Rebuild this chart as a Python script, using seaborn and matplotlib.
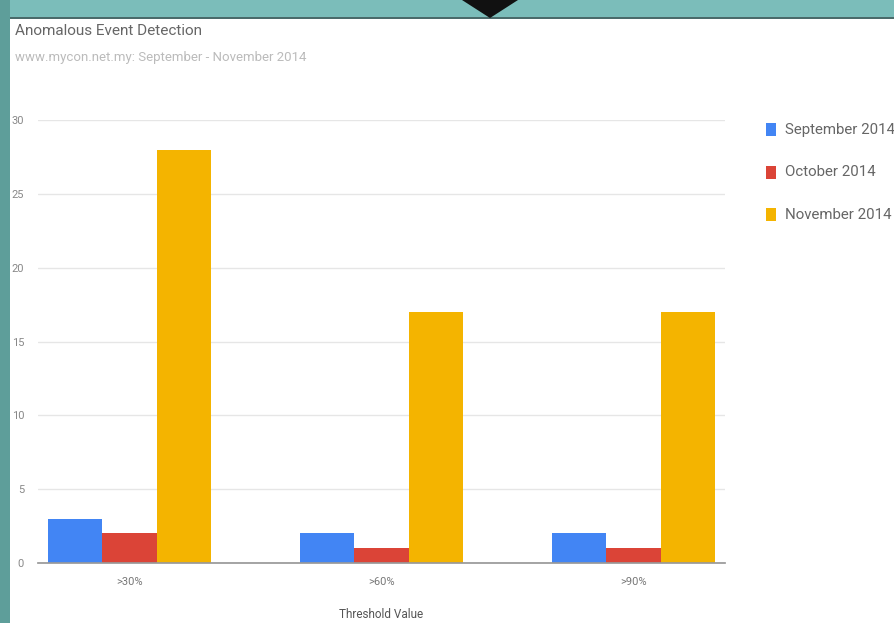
import matplotlib
matplotlib.use("Agg")
import matplotlib.pyplot as plt
import matplotlib.patches as mpatches
import seaborn as sns
import pandas as pd

categories = [">30%", ">60%", ">90%"]
series = ["September 2014", "October 2014", "November 2014"]
sep_vals = [3, 2, 2]
oct_vals = [2, 1, 1]
nov_vals = [28, 17, 17]
colors = ["#4285F4", "#DB4437", "#F4B400"]

rows = []
for s, vals in zip(series, [sep_vals, oct_vals, nov_vals]):
    for c, v in zip(categories, vals):
        rows.append({"Threshold Value": c, "Month": s, "Count": v})
df = pd.DataFrame(rows)

sns.set_theme(style="white")
plt.rcParams['font.family'] = ['Roboto', 'DejaVu Sans']

fig = plt.figure(figsize=(8.94, 6.23), dpi=100)
fig.patch.set_facecolor("white")

# teal frame (photo border)
fig.patches.append(mpatches.Rectangle((0, 1 - 17/623), 1, 17/623, transform=fig.transFigure,
                                      facecolor="#7BBDBA", edgecolor="none", zorder=0))
fig.patches.append(mpatches.Rectangle((0, 0), 10/894, 1, transform=fig.transFigure,
                                      facecolor="#5E9E9A", edgecolor="none", zorder=0))
fig.patches.append(mpatches.Rectangle((10/894, 1 - 19/623), 1, 2/623, transform=fig.transFigure,
                                      facecolor="#4A6B6B", edgecolor="none", zorder=0))
fig.patches.append(mpatches.Polygon([(462/894, 1.0), (518/894, 1.0), (490/894, 1 - 18/623)],
                                    closed=True, transform=fig.transFigure,
                                    facecolor="#111111", edgecolor="none", zorder=1))

ax = fig.add_axes([38/894, 1 - 563/623, 687/894, (563 - 120)/623])
sns.barplot(data=df, x="Threshold Value", y="Count", hue="Month", palette=colors,
            width=0.65, gap=0, saturation=1, ax=ax, legend=False, linewidth=0)

ax.set_ylim(0, 30)
ax.set_xlim(-0.363, 2.363)
ax.set_yticks([0, 5, 10, 15, 20, 25, 30])
ax.yaxis.grid(True, color="#E6E6E6", linewidth=1)
ax.set_axisbelow(True)
for sp in ["top", "right", "left"]:
    ax.spines[sp].set_visible(False)
ax.spines["bottom"].set_color("#999999")
ax.tick_params(axis="y", length=0, labelsize=8, labelcolor="#888888", pad=10)
ax.tick_params(axis="x", length=0, labelsize=8, labelcolor="#777777", pad=10)
ax.set_ylabel("")
ax.set_xlabel("Threshold Value", fontsize=8.5, color="#555555", labelpad=15)

fig.text(15/894, 1 - 31/623, "Anomalous Event Detection", fontsize=11, color="#666666",
         va="center", ha="left")
fig.text(15/894, 1 - 57/623, "www.mycon.net.my: September - November 2014", fontsize=9.5,
         color="#BBBBBB", va="center", ha="left")

for i, (s, c) in enumerate(zip(series, colors)):
    y = 1 - (130 + i * 42.5)/623
    fig.patches.append(mpatches.Rectangle((766/894, y - 6/623), 10/894, 13/623,
                                          transform=fig.transFigure, facecolor=c,
                                          edgecolor="none"))
    fig.text(785/894, y, s, fontsize=10.8, color="#666666", va="center", ha="left")

fig.savefig("out.png", dpi=100)
